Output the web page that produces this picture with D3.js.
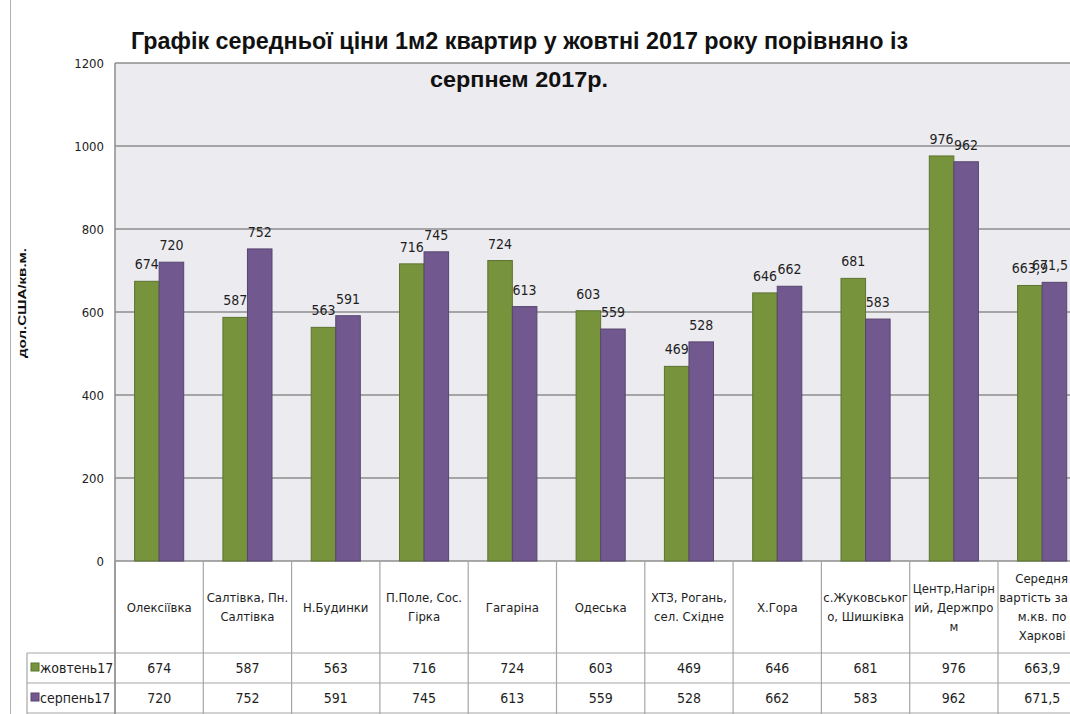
<!DOCTYPE html>
<html>
<head>
<meta charset="utf-8">
<script src="https://cdn.jsdelivr.net/npm/d3@7"></script>
<style>
  body { margin: 0; background: #fff; }
  svg { display: block; font-family: "Liberation Sans", Arial, sans-serif; }
  .narrow { font-family: "Liberation Sans Narrow", "DejaVu Sans Condensed", "Liberation Sans", sans-serif; }
</style>
</head>
<body>
<script>
// data
const categories = [
  ["Олексіївка"],
  ["Салтівка, Пн.", "Салтівка"],
  ["Н.Будинки"],
  ["П.Поле, Сос.", "Гірка"],
  ["Гагаріна"],
  ["Одеська"],
  ["ХТЗ, Рогань,", "сел. Східне"],
  ["Х.Гора"],
  ["с.Жуковськог", "о, Шишківка"],
  ["Центр,Нагірн", "ий, Держпро", "м"],
  ["Середня", "вартість за", "м.кв. по", "Харкові"]
];
const seriesNames = ["жовтень17", "серпень17"];
const octValues = [674, 587, 563, 716, 724, 603, 469, 646, 681, 976, 663.9];
const augValues = [720, 752, 591, 745, 613, 559, 528, 662, 583, 962, 671.5];
const yTicks = [0, 200, 400, 600, 800, 1000, 1200];
const titleLines = ["Графік середньої ціни 1м2 квартир у жовтні 2017 року порівняно із", "серпнем 2017р."];
const yTitle = "дол.США/кв.м.";

const colors = ["#77933c", "#71588f"];
const series = [octValues, augValues];

const width = 1070, height = 714;
const plot = { left: 115, top: 63, bottom: 561, colW: 88.3 };
const rows = { labelBottom: 653, rowH: 30, headLeft: 27 };

const fmt = (v) => String(v).replace(".", ",");

const svg = d3.select("body").append("svg")
  .attr("width", width)
  .attr("height", height);

svg.append("rect").attr("width", width).attr("height", height).attr("fill", "#fff");

// sheet border on the left
svg.append("line")
  .attr("x1", 10.5).attr("x2", 10.5).attr("y1", 0).attr("y2", height)
  .attr("stroke", "#b0b0b0");

const x = d3.scaleBand()
  .domain(d3.range(categories.length))
  .range([plot.left, plot.left + categories.length * plot.colW]);

const gap = 19.6;
const x1 = d3.scaleBand()
  .domain(d3.range(series.length))
  .range([gap, x.bandwidth() - gap]);

const y = d3.scaleLinear().domain([0, 1200]).range([plot.bottom, plot.top]);

// plot background
svg.append("rect")
  .attr("x", plot.left).attr("y", plot.top)
  .attr("width", x.range()[1] - plot.left)
  .attr("height", plot.bottom - plot.top)
  .attr("fill", "#ecebf0");

// gridlines
svg.append("g")
  .selectAll("line")
  .data(yTicks)
  .join("line")
  .attr("x1", plot.left).attr("x2", x.range()[1])
  .attr("y1", (d) => y(d)).attr("y2", (d) => y(d))
  .attr("stroke", "#8e8e8e")
  .attr("stroke-width", 1.5);

// y tick labels
svg.append("g")
  .attr("class", "narrow")
  .selectAll("text")
  .data(yTicks)
  .join("text")
  .attr("x", 104)
  .attr("y", (d) => y(d))
  .attr("dy", "0.35em")
  .attr("text-anchor", "end")
  .attr("font-size", 13)
  .attr("fill", "#222")
  .text((d) => d);

// y axis title
svg.append("text")
  .attr("transform", `translate(26,303) rotate(-90)`)
  .attr("text-anchor", "middle")
  .attr("font-size", 11.5)
  .attr("font-weight", "bold")
  .attr("fill", "#111")
  .attr("textLength", 110)
  .attr("lengthAdjust", "spacingAndGlyphs")
  .text(yTitle);

// bars
const groups = svg.append("g")
  .selectAll("g")
  .data(categories)
  .join("g")
  .attr("transform", (d, i) => `translate(${x(i)},0)`);

groups.selectAll("rect")
  .data((d, i) => series.map((s, k) => ({ k, v: s[i] })))
  .join("rect")
  .attr("x", (d) => x1(d.k))
  .attr("y", (d) => y(d.v))
  .attr("width", x1.bandwidth())
  .attr("height", (d) => y(0) - y(d.v))
  .attr("fill", (d) => colors[d.k])
  .attr("stroke", (d) => d3.color(colors[d.k]).darker(0.7))
  .attr("stroke-width", 1);

groups.selectAll("text")
  .data((d, i) => series.map((s, k) => ({ k, v: s[i] })))
  .join("text")
  .attr("class", "narrow fit")
  .attr("x", (d) => x1(d.k) + x1.bandwidth() / 2)
  .attr("y", (d) => y(d.v) - 12)
  .attr("text-anchor", "middle")
  .attr("font-size", 14)
  .attr("fill", "#1e1e1e")
  .text((d) => fmt(d.v));

// data table
const grid = svg.append("g").attr("stroke", "#a6a6a6").attr("stroke-width", 1.2);
const tableRight = x.range()[1];
const colEdges = d3.range(categories.length + 1).map((i) => plot.left + i * plot.colW);

grid.selectAll(".vcol")
  .data(colEdges)
  .join("line")
  .attr("x1", (d) => d).attr("x2", (d) => d)
  .attr("y1", plot.bottom).attr("y2", height);

[rows.labelBottom, rows.labelBottom + rows.rowH, rows.labelBottom + 2 * rows.rowH].forEach((yy) => {
  grid.append("line")
    .attr("x1", rows.headLeft).attr("x2", tableRight)
    .attr("y1", yy).attr("y2", yy);
});
grid.append("line")
  .attr("x1", rows.headLeft).attr("x2", rows.headLeft)
  .attr("y1", rows.labelBottom).attr("y2", height);

// y axis line
svg.append("line")
  .attr("x1", plot.left).attr("x2", plot.left)
  .attr("y1", plot.top).attr("y2", height)
  .attr("stroke", "#8e8e8e").attr("stroke-width", 1.5);

// category labels
const lineH = 19;
const labelMid = (plot.bottom + rows.labelBottom) / 2;
svg.append("g")
  .attr("class", "narrow")
  .selectAll("text")
  .data(categories)
  .join("text")
  .attr("x", (d, i) => x(i) + x.bandwidth() / 2)
  .attr("y", (d) => labelMid - ((d.length - 1) * lineH) / 2)
  .attr("text-anchor", "middle")
  .attr("font-size", 13)
  .attr("fill", "#1e1e1e")
  .each(function (d) {
    const cx = +d3.select(this).attr("x");
    d3.select(this).selectAll("tspan")
      .data(d)
      .join("tspan")
      .attr("class", "fit")
      .attr("x", cx)
      .attr("dy", (t, j) => (j === 0 ? "0.35em" : lineH))
      .text((t) => t);
  });

// table value rows
series.forEach((s, k) => {
  const cy = rows.labelBottom + rows.rowH * k + rows.rowH / 2;
  svg.append("rect")
    .attr("x", 31).attr("y", cy - 5)
    .attr("width", 8).attr("height", 8)
    .attr("fill", colors[k])
    .attr("stroke", d3.color(colors[k]).darker(0.7));
  svg.append("text")
    .attr("class", "narrow")
    .attr("x", 40).attr("y", cy)
    .attr("dy", "0.35em")
    .attr("font-size", 14)
    .attr("fill", "#1e1e1e")
    .text(seriesNames[k]);
  svg.append("g")
    .attr("class", "narrow")
    .selectAll("text")
    .data(s)
    .join("text")
    .attr("x", (d, i) => x(i) + x.bandwidth() / 2)
    .attr("y", cy)
    .attr("dy", "0.35em")
    .attr("text-anchor", "middle")
    .attr("font-size", 14)
    .attr("fill", "#1e1e1e")
    .text((d) => fmt(d));
});

// keep texts inside the right edge of the picture
svg.selectAll(".fit").each(function () {
  const el = this;
  const box = el.getBBox();
  const parentG = el.tagName === "tspan" ? el.parentNode.parentNode : el.parentNode;
  const m = parentG.getCTM ? parentG.getCTM() : null;
  const offset = m ? m.e : 0;
  const right = offset + box.x + box.width;
  if (right > width - 2) {
    const cur = +el.getAttribute("x");
    el.setAttribute("x", cur - (right - (width - 2)));
  }
});

// title
svg.append("text")
  .attr("x", 131).attr("y", 49)
  .attr("font-size", 24)
  .attr("font-weight", "bold")
  .attr("fill", "#111")
  .attr("textLength", 777)
  .attr("lengthAdjust", "spacingAndGlyphs")
  .text(titleLines[0]);
svg.append("text")
  .attr("x", 430).attr("y", 87)
  .attr("font-size", 22)
  .attr("font-weight", "bold")
  .attr("fill", "#111")
  .attr("textLength", 178)
  .attr("lengthAdjust", "spacingAndGlyphs")
  .text(titleLines[1]);
</script>
</body>
</html>
